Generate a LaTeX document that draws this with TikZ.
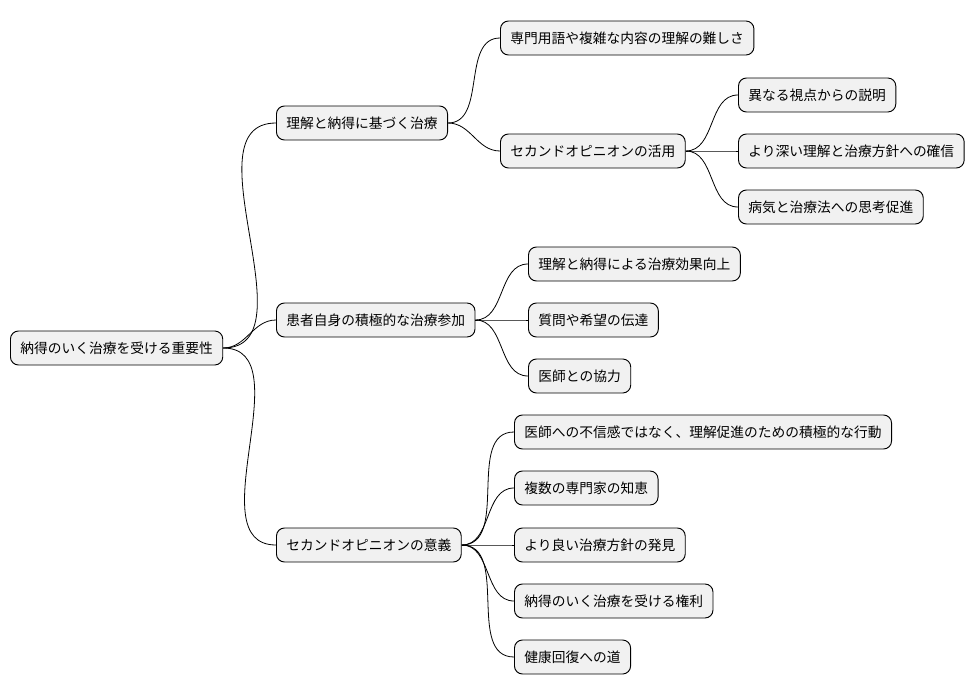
\documentclass[tikz,border=0pt]{standalone}
\usepackage{fontspec}
\setmainfont{Noto Sans CJK JP}
\begin{document}
\begin{tikzpicture}[x=0.75pt,y=-0.75pt,
  mm/.style={draw=black,fill={rgb,255:red,241;green,241;blue,241},rounded corners=6pt,line width=0.7pt,
    minimum height=25.5pt,inner xsep=7.5pt,anchor=west,font=\fontsize{10.3pt}{12pt}\selectfont},
  ed/.style={line width=0.6pt}]
\useasboundingbox (0,0) rectangle (978,696);
\node[mm] (r) at (10,348) {納得のいく治療を受ける重要性};
\node[mm] (a) at (276,123) {理解と納得に基づく治療};
\node[mm] (b) at (276,320) {患者自身の積極的な治療参加};
\node[mm] (c) at (276,545) {セカンドオピニオンの意義};
\node[mm] (a1) at (500,38) {専門用語や複雑な内容の理解の難しさ};
\node[mm] (a2) at (500,151) {セカンドオピニオンの活用};
\node[mm] (a21) at (738,95) {異なる視点からの説明};
\node[mm] (a22) at (738,151) {より深い理解と治療方針への確信};
\node[mm] (a23) at (738,207) {病気と治療法への思考促進};
\node[mm] (b1) at (528,264) {理解と納得による治療効果向上};
\node[mm] (b2) at (528,320) {質問や希望の伝達};
\node[mm] (b3) at (528,376) {医師との協力};
\node[mm] (c1) at (514,432) {医師への不信感ではなく、理解促進のための積極的な行動};
\node[mm] (c2) at (514,488) {複数の専門家の知恵};
\node[mm] (c3) at (514,545) {より良い治療方針の発見};
\node[mm] (c4) at (514,601) {納得のいく治療を受ける権利};
\node[mm] (c5) at (514,657) {健康回復への道};
\foreach \p/\c in {r/a,r/b,r/c,a/a1,a/a2,a2/a21,a2/a22,a2/a23,b/b1,b/b2,b/b3,c/c1,c/c2,c/c3,c/c4,c/c5}
  \draw[ed] (\p.east) to[out=0,in=180] (\c.west);
\end{tikzpicture}
\end{document}
